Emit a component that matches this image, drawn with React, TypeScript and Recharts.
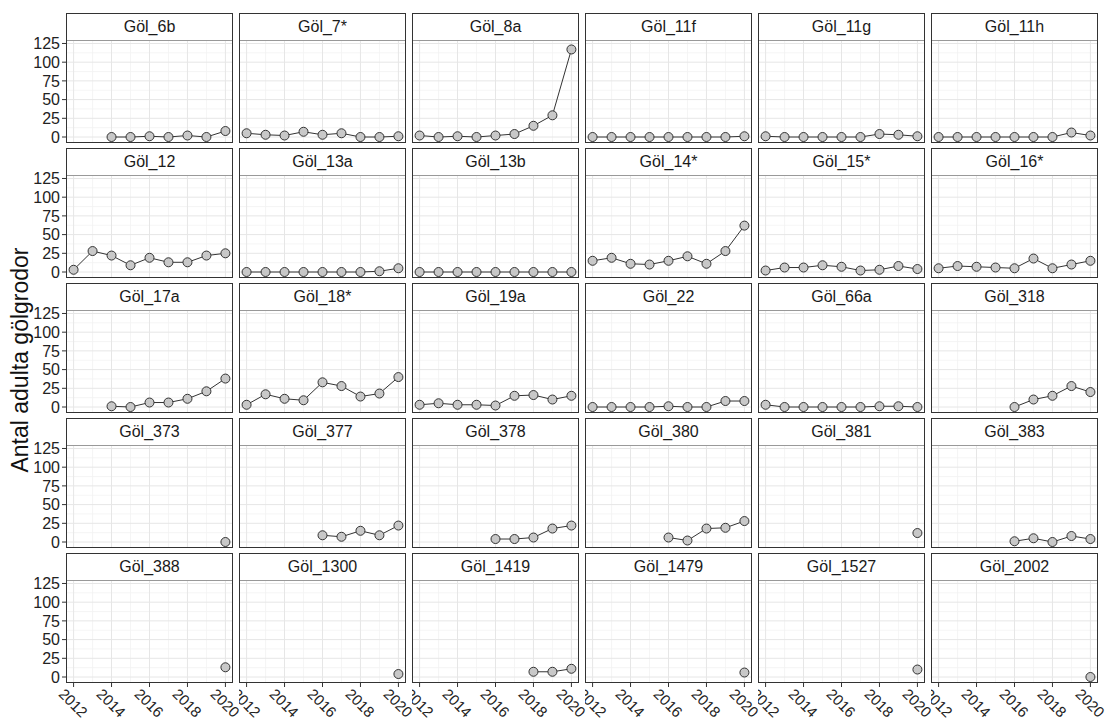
import { LineChart, Line, XAxis, YAxis, CartesianGrid } from "recharts";

const years = [2012, 2013, 2014, 2015, 2016, 2017, 2018, 2019, 2020];

const sites = [
  "Göl_6b", "Göl_7*", "Göl_8a", "Göl_11f", "Göl_11g", "Göl_11h",
  "Göl_12", "Göl_13a", "Göl_13b", "Göl_14*", "Göl_15*", "Göl_16*",
  "Göl_17a", "Göl_18*", "Göl_19a", "Göl_22", "Göl_66a", "Göl_318",
  "Göl_373", "Göl_377", "Göl_378", "Göl_380", "Göl_381", "Göl_383",
  "Göl_388", "Göl_1300", "Göl_1419", "Göl_1479", "Göl_1527", "Göl_2002",
];

// adult counts per year 2012-2020, null = not surveyed that year
const counts: (number | null)[][] = [
  [null, null, 0, 0, 1, 0, 2, 0, 8],
  [5, 3, 2, 7, 3, 5, 0, 0, 1],
  [2, 0, 1, 0, 2, 4, 15, 29, 117],
  [0, 0, 0, 0, 0, 0, 0, 0, 1],
  [1, 0, 0, 0, 0, 0, 4, 3, 1],
  [0, 0, 0, 0, 0, 0, 0, 6, 2],
  [3, 28, 22, 9, 19, 13, 13, 22, 25],
  [0, 0, 0, 0, 0, 0, 0, 1, 5],
  [0, 0, 0, 0, 0, 0, 0, 0, 0],
  [15, 19, 11, 10, 15, 21, 11, 28, 62],
  [2, 6, 6, 9, 7, 2, 3, 8, 4],
  [5, 8, 7, 6, 5, 18, 5, 10, 15],
  [null, null, 1, 0, 6, 6, 11, 21, 38],
  [3, 17, 11, 9, 33, 28, 14, 18, 40],
  [3, 5, 3, 3, 2, 15, 16, 10, 15],
  [0, 0, 0, 0, 1, 0, 0, 8, 8],
  [3, 0, 0, 0, 0, 0, 1, 1, 0],
  [null, null, null, null, 0, 10, 15, 28, 20],
  [null, null, null, null, null, null, null, null, 0],
  [null, null, null, null, 9, 7, 15, 9, 22],
  [null, null, null, null, 4, 4, 6, 18, 22],
  [null, null, null, null, 6, 2, 18, 19, 28],
  [null, null, null, null, null, null, null, null, 12],
  [null, null, null, null, 1, 5, 0, 8, 4],
  [null, null, null, null, null, null, null, null, 13],
  [null, null, null, null, null, null, null, null, 4],
  [null, null, null, null, null, null, 7, 7, 11],
  [null, null, null, null, null, null, null, null, 6],
  [null, null, null, null, null, null, null, null, 10],
  [null, null, null, null, null, null, null, null, 0],
];

const yTicks = [0, 25, 50, 75, 100, 125];
const yMinor = [12.5, 37.5, 62.5, 87.5, 112.5];
const xTicks = [2012, 2014, 2016, 2018, 2020];
const xMinor = [2013, 2015, 2017, 2019];

const COLS = 6;
const ROWS = 5;
const PANEL_W = 167;
const STRIP_H = 28;
const PLOT_H = 102;
const Y_AXIS_W = 60;
const X_AXIS_H = 50;
const EXTRA_R = 30;
const PAD = 12; // room so edge tick labels are not clipped

const colLeft = (c: number) => 66 + 173 * c;
const rowTop = (r: number) => 13 + 135 * r;

const YearTick = ({ x, y, payload }: any) => (
  <text
    x={x - 8}
    y={y - 2}
    transform={`rotate(45 ${x - 8} ${y - 2})`}
    fontSize={15}
    fill="#222"
    textAnchor="start"
    dominantBaseline="hanging"
  >
    {payload.value}
  </text>
);

function Panel({ idx }: { idx: number }) {
  const c = idx % COLS;
  const r = Math.floor(idx / COLS);
  const first = c === 0;
  const bottom = r === ROWS - 1;
  const data = years
    .map((year, i) => ({ year, count: counts[idx][i] }))
    .filter((d) => d.count !== null);

  const left = colLeft(c) - (first ? Y_AXIS_W : 0);
  const top = rowTop(r);
  const padBottom = bottom ? 0 : PAD;

  return (
    <>
      <div style={{ position: "absolute", left, top: top + STRIP_H - PAD }}>
        <LineChart
          width={PANEL_W + (first ? Y_AXIS_W : 0) + EXTRA_R}
          height={PLOT_H + PAD + padBottom + (bottom ? X_AXIS_H : 0)}
          data={data}
          margin={{ top: PAD, right: EXTRA_R, bottom: padBottom, left: 0 }}
        >
          <CartesianGrid
            horizontalValues={yMinor}
            verticalValues={xMinor}
            stroke="#f2f2f2"
            strokeWidth={0.8}
          />
          <CartesianGrid
            horizontalValues={yTicks}
            verticalValues={xTicks}
            stroke="#e6e6e6"
            strokeWidth={1}
          />
          <XAxis
            type="number"
            dataKey="year"
            domain={[2011.6, 2020.4]}
            allowDataOverflow
            ticks={xTicks}
            hide={!bottom}
            height={X_AXIS_H}
            axisLine={false}
            tickSize={4}
            tickLine={{ stroke: "#333" }}
            tick={<YearTick />}
            interval={0}
          />
          <YAxis
            type="number"
            domain={[-8, 128.3]}
            allowDataOverflow
            ticks={yTicks}
            hide={!first}
            width={Y_AXIS_W}
            axisLine={false}
            tickSize={4}
            tickMargin={2}
            tickLine={{ stroke: "#333" }}
            tick={{ fill: "#222", fontSize: 16 }}
            interval={0}
          />
          <Line
            type="linear"
            dataKey="count"
            stroke="#333"
            strokeWidth={1}
            dot={{ r: 4.5, fill: "#c8c8c8", stroke: "#333", strokeWidth: 1 }}
            isAnimationActive={false}
          />
        </LineChart>
      </div>
      {/* strip */}
      <div
        style={{
          position: "absolute",
          left: colLeft(c),
          top,
          width: PANEL_W,
          height: STRIP_H,
          boxSizing: "border-box",
          background: "#fff",
          border: "1px solid #333",
          borderBottom: "1px solid #999",
          textAlign: "center",
          lineHeight: `${STRIP_H - 2}px`,
          fontSize: 16,
          color: "#1a1a1a",
        }}
      >
        {sites[idx]}
      </div>
      {/* panel border */}
      <div
        style={{
          position: "absolute",
          left: colLeft(c),
          top,
          width: PANEL_W,
          height: STRIP_H + PLOT_H,
          boxSizing: "border-box",
          border: "1px solid #333",
          pointerEvents: "none",
        }}
      />
    </>
  );
}

export default function App() {
  return (
    <div
      style={{
        position: "absolute",
        left: 0,
        top: 0,
        width: 1106,
        height: 722,
        background: "#fff",
        overflow: "hidden",
        fontFamily: "'Liberation Sans', Arial, sans-serif",
      }}
    >
      {sites.map((_, i) => (
        <Panel key={i} idx={i} />
      ))}
      <div
        style={{
          position: "absolute",
          left: 20,
          top: 360,
          transform: "translate(-50%, -50%) rotate(-90deg)",
          whiteSpace: "nowrap",
          fontSize: 23,
          color: "#111",
        }}
      >
        Antal adulta gölgrodor
      </div>
    </div>
  );
}
